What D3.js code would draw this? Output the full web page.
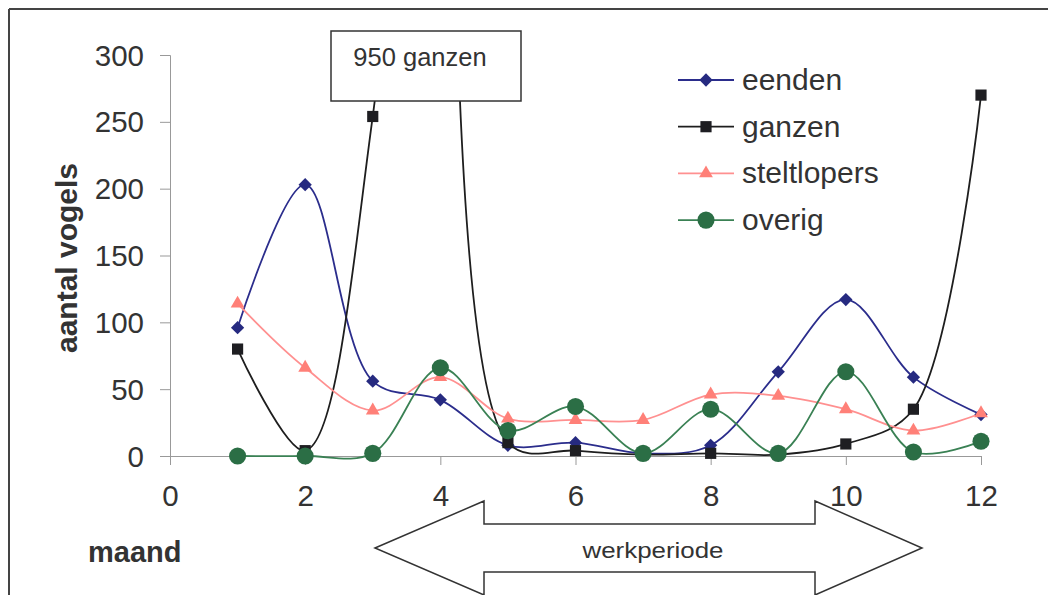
<!DOCTYPE html>
<html>
<head>
<meta charset="utf-8">
<script src="https://cdn.jsdelivr.net/npm/d3@7"></script>
<style>
  html, body { margin: 0; padding: 0; background: #fff; }
  svg { display: block; }
  text { font-family: "Liberation Sans", Arial, sans-serif; fill: #333; }
</style>
</head>
<body>
<svg id="chart" width="1048" height="595"></svg>
<script>
// ---- data ----
const months = [1, 2, 3, 4, 5, 6, 7, 8, 9, 10, 11, 12];
const eenden = [96, 203, 56, 42, 8, 10, 2, 8, 63, 117, 59, 31];
const ganzen = [80, 4, 254, 950, 10, 4, 1, 2, 1, 9, 35, 270];
const steltlopers = [114, 66, 34, 59, 28, 27, 27, 46, 45, 35, 19, 32];
const overig = [0, 0, 2, 66, 19, 37, 2, 35, 2, 63, 3, 11];
const seriesNames = ["eenden", "ganzen", "steltlopers", "overig"];
const xTicks = [0, 2, 4, 6, 8, 10, 12];
const yTicks = [0, 50, 100, 150, 200, 250, 300];
const yTitle = "aantal vogels";
const xTitle = "maand";
const noteText = "950 ganzen";
const arrowText = "werkperiode";

// ---- layout ----
const svg = d3.select("#chart");
const x = d3.scaleLinear().domain([0, 12]).range([170, 981]);
const y = d3.scaleLinear().domain([0, 300]).range([456, 55]);

// wide diamond symbol (rotated square)
const wideDiamond = {
  draw(ctx, size) {
    const r = Math.sqrt(size / 2);
    ctx.moveTo(0, -r); ctx.lineTo(r, 0); ctx.lineTo(0, r); ctx.lineTo(-r, 0); ctx.closePath();
  }
};

const styles = {
  eenden:      { line: "#2b2d8c", fill: "#262a80", shape: wideDiamond, size: 88 },
  ganzen:      { line: "#1e1e1e", fill: "#1e1e22", shape: d3.symbolSquare, size: 125 },
  steltlopers: { line: "#ff9090", fill: "#ff8078", shape: d3.symbolTriangle, size: 82 },
  overig:      { line: "#3a8154", fill: "#2b6e45", shape: d3.symbolCircle, size: 230 }
};
const dataBy = { eenden, ganzen, steltlopers, overig };

// outer frame (only left and top visible)
svg.append("line").attr("x1", 9).attr("y1", 9).attr("x2", 1048).attr("y2", 9)
  .attr("stroke", "#444").attr("stroke-width", 2);
svg.append("line").attr("x1", 9).attr("y1", 9).attr("x2", 9).attr("y2", 595)
  .attr("stroke", "#444").attr("stroke-width", 2);

// axes
const yAxis = d3.axisLeft(y).tickValues(yTicks).tickSize(10).tickPadding(16).tickFormat(d3.format("d"));
const gy = svg.append("g").attr("transform", `translate(${x(0)},0)`).call(yAxis);
gy.select(".domain").attr("stroke", "#999").attr("stroke-width", 1);
gy.selectAll(".tick line").attr("stroke", "#999");
gy.selectAll(".tick text").style("font-family", '"Liberation Sans", Arial, sans-serif')
  .style("font-size", "29.5px").attr("fill", "#333").attr("dy", "0.34em");

const xAxis = d3.axisBottom(x).tickValues(xTicks).tickSize(9).tickPadding(20).tickFormat(d3.format("d"));
const gx = svg.append("g").attr("transform", `translate(0,${y(0)})`).call(xAxis);
gx.select(".domain").attr("stroke", "#999").attr("stroke-width", 1);
gx.selectAll(".tick line").attr("stroke", "#999");
gx.selectAll(".tick text").style("font-family", '"Liberation Sans", Arial, sans-serif')
  .style("font-size", "29.5px").attr("fill", "#333");

// titles
svg.append("text").attr("transform", "translate(77,258) rotate(-90)")
  .attr("text-anchor", "middle").style("font-size", "30px").style("font-weight", "bold")
  .attr("fill", "#2a2a2a").text(yTitle);
svg.append("text").attr("x", 88).attr("y", 562)
  .style("font-size", "29px").style("font-weight", "bold").attr("fill", "#2a2a2a").text(xTitle);

// clip for series
svg.append("clipPath").attr("id", "plotclip").append("rect")
  .attr("x", 150).attr("y", 40).attr("width", 860).attr("height", 440);

const plot = svg.append("g").attr("clip-path", "url(#plotclip)");
const line = d3.line().x((d, i) => x(months[i])).y(d => y(d)).curve(d3.curveCatmullRom.alpha(0.5));

seriesNames.forEach(name => {
  const st = styles[name];
  plot.append("path").datum(dataBy[name]).attr("d", line)
    .attr("fill", "none").attr("stroke", st.line).attr("stroke-width", 1.8);
});
seriesNames.forEach(name => {
  const st = styles[name];
  plot.append("g").selectAll("path").data(dataBy[name]).join("path")
    .attr("transform", (d, i) => `translate(${x(months[i])},${y(d)})`)
    .attr("d", d3.symbol().type(st.shape).size(st.size))
    .attr("fill", st.fill);
});

// note box
const note = svg.append("g");
note.append("rect").attr("x", 331).attr("y", 31).attr("width", 190).attr("height", 70)
  .attr("fill", "#fff").attr("stroke", "#333").attr("stroke-width", 1.5);
note.append("text").attr("x", 420).attr("y", 66).attr("text-anchor", "middle")
  .style("font-size", "25.5px").attr("fill", "#333").text(noteText);

// legend
const legend = svg.append("g");
seriesNames.forEach((name, i) => {
  const st = styles[name];
  const cy = 80 + i * 46.7;
  legend.append("line").attr("x1", 678).attr("x2", 734).attr("y1", cy).attr("y2", cy)
    .attr("stroke", st.line).attr("stroke-width", 1.8);
  legend.append("path").attr("transform", `translate(706,${cy})`)
    .attr("d", d3.symbol().type(st.shape).size(st.size)).attr("fill", st.fill);
  legend.append("text").attr("x", 742).attr("y", cy + 10)
    .style("font-size", "30px").attr("fill", "#333").text(name);
});

// double arrow "werkperiode"
const ay = 548, headH = 47, shaftH = 24;
const lt = 375, lb = 484, rb = 815, rt = 922;
const pts = [[lt, ay], [lb, ay - headH], [lb, ay - shaftH], [rb, ay - shaftH], [rb, ay - headH],
             [rt, ay], [rb, ay + headH], [rb, ay + shaftH], [lb, ay + shaftH], [lb, ay + headH]];
svg.append("path").attr("d", d3.line()(pts) + "Z")
  .attr("fill", "#fff").attr("stroke", "#333").attr("stroke-width", 1.5);
svg.append("text").attr("x", 653).attr("y", 558).attr("text-anchor", "middle")
  .style("font-size", "22px").attr("fill", "#333")
  .attr("textLength", 141).attr("lengthAdjust", "spacingAndGlyphs").text(arrowText);
</script>
</body>
</html>
